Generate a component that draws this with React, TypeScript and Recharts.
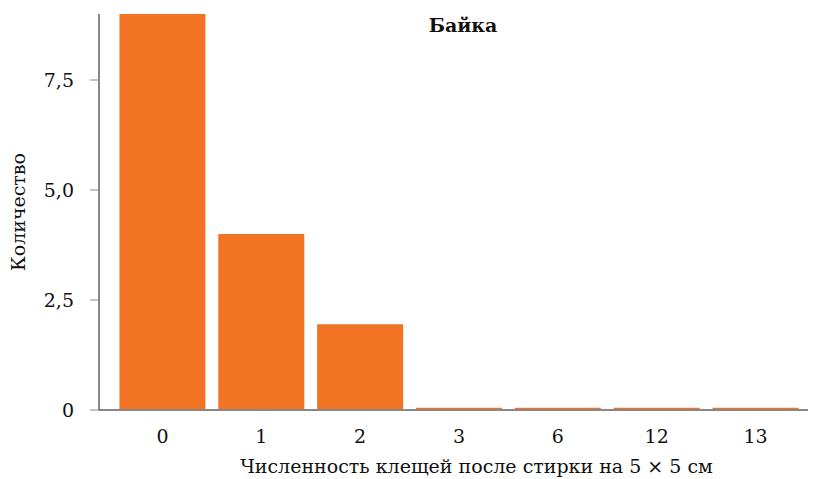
import { Bar, BarChart, XAxis, YAxis } from "recharts";

const categories = ["0", "1", "2", "3", "6", "12", "13"];
const counts = [9, 4, 1.95, 0.05, 0.05, 0.05, 0.05];
const yTicks = [0, 2.5, 5, 7.5];

const data = categories.map((mites, i) => ({ mites, count: counts[i] }));

const font = "DejaVu Serif";

export default function App() {
  return (
    <div style={{ position: "absolute", left: 0, top: 0, background: "#fff", fontFamily: font }}>
      <BarChart
        width={821}
        height={479}
        data={data}
        margin={{ top: 14, right: 13, bottom: 0, left: 0 }}
        barCategoryGap="6.5%"
        style={{ fontFamily: font }}
      >
        <text x={463} y={32} textAnchor="middle" style={{ fontFamily: font }} fontSize={19} fontWeight="bold" fill="#111">
          Байка
        </text>
        <XAxis
          dataKey="mites"
          height={69}
          padding={{ left: 14, right: 3 }}
          tickLine={false}
          tickSize={0}
          tickMargin={20}
          stroke="#888888"
          strokeWidth={2}
          tick={{ fill: "#111", fontSize: 19, style: { fontFamily: font } }}
          label={{ value: "Численность клещей после стирки на 5 × 5 см", position: "insideBottom", offset: 6, fill: "#111", fontSize: 19, style: { fontFamily: font }, dx: 23 }}
        />
        <YAxis
          width={99}
          domain={[0, 9]}
          ticks={yTicks}
          tickSize={9}
          tickMargin={16}
          axisLine={{ stroke: "#111" }}
          tickLine={{ stroke: "#888" }}
          tickFormatter={(v: number) => (v === 0 ? "0" : v.toFixed(1).replace(".", ","))}
          tick={{ fill: "#111", fontSize: 19, style: { fontFamily: font } }}
          label={{ value: "Количество", angle: -90, position: "insideLeft", offset: 18, fill: "#111", fontSize: 19, style: { fontFamily: font, textAnchor: "middle" } }}
        />
        <Bar dataKey="count" fill="#F37324" isAnimationActive={false} />
      </BarChart>
    </div>
  );
}
